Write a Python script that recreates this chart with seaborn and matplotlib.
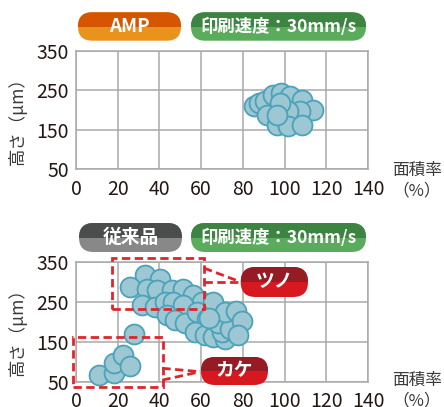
import numpy as np
import pandas as pd
import matplotlib
matplotlib.use('Agg')
import matplotlib.pyplot as plt
from matplotlib.patches import FancyBboxPatch, Rectangle
import seaborn as sns

# AMP, 30mm/s
amp_x = [85.4, 87.9, 90.6, 94.6, 98.2, 102.6, 108.2, 113.5, 107.4, 101.8, 97.8, 91.5, 96.3, 101.8, 108.2, 96.3]
amp_y = [209, 217, 223, 238, 242, 234, 226, 200, 196, 196, 217, 187, 162, 158, 162, 188]

# conventional product, 30mm/s
old_x = [33, 40.5, 26, 34, 38.7, 45.9, 51.2, 56.3, 60.3, 65.9, 31.5, 37.9, 42.7, 46.7, 51.5,
         43.5, 47.5, 52.3, 57.9, 62.7, 57.1, 61.9, 65.9, 71.5, 69.9, 68.3, 73.9, 71.5, 76.7,
         79.5, 77.8, 64, 28, 11, 18.4, 18.4, 22.7, 25.9]
old_y = [317, 308, 287, 283, 279, 279, 283, 267, 250, 250, 241, 237, 249, 250, 242,
         216, 204, 196, 225, 208, 175, 167, 162, 158, 175, 196, 183, 225, 227,
         202, 167, 210, 170, 68, 72, 96, 117, 89]

x_ticks = [0, 20, 40, 60, 80, 100, 120, 140]
y_ticks = [50, 150, 250, 350]

sns.set_style('white')
plt.rcParams['font.family'] = ['Noto Sans CJK JP', 'DejaVu Sans']

fig = plt.figure(figsize=(4.44, 4.07), dpi=100)
ax1 = fig.add_axes([76/444, 1-169/407, 292/444, 118.3/407])
ax2 = fig.add_axes([76/444, 1-381.7/407, 292/444, 120/407])

grid_c = '#a9a9a9'
for ax, xs, ys in [(ax1, amp_x, amp_y), (ax2, old_x, old_y)]:
    df = pd.DataFrame({'x': xs, 'y': ys})
    sns.scatterplot(data=df, x='x', y='y', ax=ax, s=205, color='#9cc7d3',
                    edgecolor='#4aa2bb', linewidth=1.3, zorder=3, clip_on=False)
    ax.set_xlim(0, 140)
    ax.set_ylim(50, 350)
    ax.set_xticks(x_ticks)
    ax.set_yticks(y_ticks)
    ax.grid(True, color=grid_c, lw=1.1)
    ax.set_axisbelow(True)
    for s in ax.spines.values():
        s.set_color(grid_c)
        s.set_linewidth(1.1)
    ax.tick_params(length=0, labelsize=14, colors='#231815')
    ax.tick_params(axis='x', pad=7)
    ax.tick_params(axis='y', pad=5)
    ax.set_xlabel('')
    ax.set_ylabel('')

# dashed boxes and callout lines
red = '#e0252a'
dash = (0, (3, 1.6))
for (x0, y0, w, h) in [(17.4, 232, 44, 128), (-1.6, 37.5, 43.5, 123.5)]:
    ax2.add_patch(Rectangle((x0, y0), w, h, fill=False, ec=red, lw=2,
                            ls=dash, clip_on=False, zorder=4))
for (xa, ya, xb, yb) in [(61.4, 334, 78.6, 300), (61.4, 300, 78.6, 300),
                         (41.4, 83.5, 59.5, 75), (41.4, 54, 59.5, 75)]:
    ax2.plot([xa, xb], [ya, yb], color=red, lw=2, ls=dash, clip_on=False, zorder=4)

# overlay in pixel coordinates for badges and labels
ov = fig.add_axes([0, 0, 1, 1], zorder=10)
ov.set_xlim(0, 444)
ov.set_ylim(407, 0)
ov.axis('off')
ov.patch.set_alpha(0)


def badge(x0, y0, x1, y1, top, bottom, text, size):
    h = y1 - y0
    style = f'round,pad=0,rounding_size={h/2}'
    ov.add_patch(FancyBboxPatch((x0, y0), x1 - x0, h, boxstyle=style, fc=bottom, ec='none'))
    up = FancyBboxPatch((x0, y0), x1 - x0, h, boxstyle=style, fc=top, ec='none')
    ov.add_patch(up)
    up.set_clip_path(Rectangle((x0, y0), x1 - x0, h / 2, transform=ov.transData))
    ov.text((x0 + x1) / 2, (y0 + y1) / 2, text, color='white', ha='center', va='center',
            fontsize=size, fontweight='bold')


badge(78, 12.3, 181, 40.7, '#d65500', '#e9931d', 'AMP', 13.5)
badge(191, 12.3, 366, 40.7, '#3d8342', '#5aab5b', '印刷速度：30mm/s', 12.5)
badge(79, 223, 182, 252, '#4b4c4c', '#888888', '従来品', 13.5)
badge(191, 223, 366, 252, '#3d8342', '#5aab5b', '印刷速度：30mm/s', 12.5)
badge(240.7, 267, 308, 297, '#961b24', '#d7191f', 'ツノ', 13.5)
badge(201, 357, 268, 385, '#961b24', '#d7191f', 'カケ', 13.5)

lab_c = '#3a3a3a'
for yc, yx in [(117, 170), (328, 380)]:
    ov.text(17, yc, '高さ（μm）', rotation=90, ha='center', va='center', fontsize=12.5, color=lab_c)
    ov.text(392, yx, '面積率', ha='left', va='center', fontsize=12, color=lab_c)
    ov.text(392, yx + 21, '（%）', ha='left', va='center', fontsize=12, color=lab_c)

fig.savefig('out.png', dpi=100)
